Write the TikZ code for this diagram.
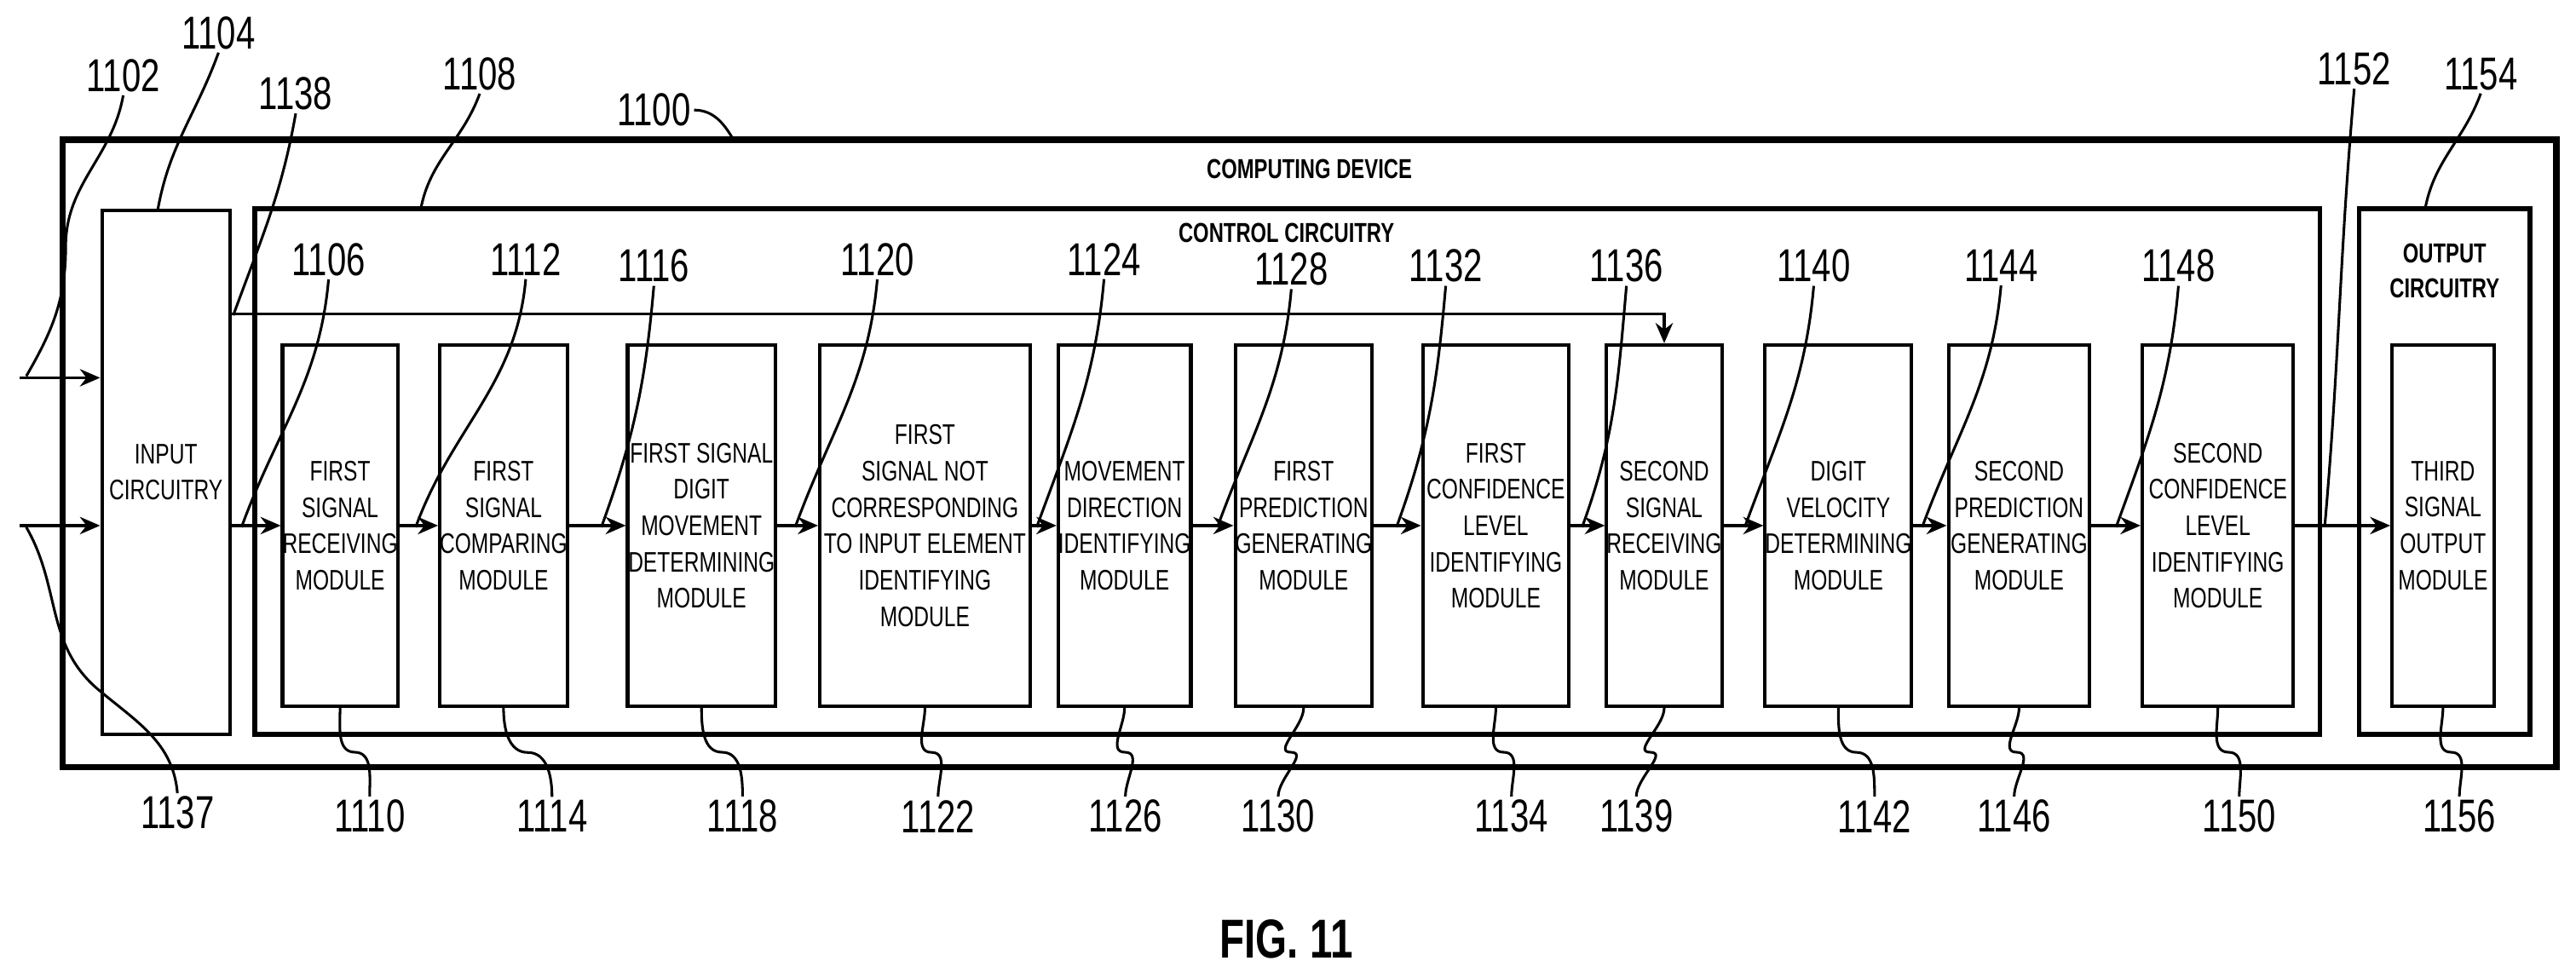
\documentclass[tikz,border=0pt]{standalone}
\usepackage{fontspec}
\setmainfont{Liberation Sans}[FakeStretch=0.74]
\usetikzlibrary{arrows.meta,calc}
\begin{document}
\begin{tikzpicture}[x=0.02cm,y=-0.02cm,
  box/.style={draw,line width=1.2pt,inner sep=0pt},
  mod/.style={draw,line width=1.2pt,minimum height=220*0.02cm,align=center,inner sep=0pt,font=\fontsize{9.8}{12.6}\selectfont},
  arr/.style={line width=1pt,-{Stealth[length=7pt,width=6pt]}},
  ref/.style={font=\fontsize{16}{16}\selectfont,inner sep=1pt},
  lead/.style={line width=0.9pt},
  hd/.style={font=\bfseries\fontsize{9.5}{12}\selectfont,align=center}]
\useasboundingbox (0,0) rectangle (1568,595);
\node[box,line width=2.2pt,minimum width=1518*0.02cm,minimum height=382*0.02cm] (dev) at (797,276) {};
\node[hd] (tdev) at (797,103) {COMPUTING DEVICE};
\node[box,minimum width=78*0.02cm,minimum height=319*0.02cm,align=center,font=\fontsize{9.8}{12.6}\selectfont] (in) at (101,287.5) {INPUT\\CIRCUITRY};
\node[box,line width=1.6pt,minimum width=1257*0.02cm,minimum height=320*0.02cm] (ctl) at (783.5,287) {};
\node[hd] (tctl) at (783,142) {CONTROL CIRCUITRY};
\node[box,line width=1.6pt,minimum width=104*0.02cm,minimum height=320*0.02cm] (out) at (1488,287) {};
\node[hd] (tout) at (1488,165) {OUTPUT\\CIRCUITRY};
\node[mod,minimum width=62*0.02cm] (m12) at (1487,320) {THIRD\\SIGNAL\\OUTPUT\\MODULE};
\node[mod,minimum width=66*0.02cm] (m1) at (207,320) {FIRST\\SIGNAL\\RECEIVING\\MODULE};
\node[mod,minimum width=73*0.02cm] (m2) at (306.5,320) {FIRST\\SIGNAL\\COMPARING\\MODULE};
\node[mod,minimum width=90*0.02cm] (m3) at (427,320) {FIRST SIGNAL\\DIGIT\\MOVEMENT\\DETERMINING\\MODULE};
\node[mod,minimum width=128*0.02cm] (m4) at (563,320) {FIRST\\SIGNAL NOT\\CORRESPONDING\\TO INPUT ELEMENT\\IDENTIFYING\\MODULE};
\node[mod,minimum width=75*0.02cm] (m5) at (684.5,320) {MOVEMENT\\DIRECTION\\IDENTIFYING\\MODULE};
\node[mod,minimum width=73*0.02cm] (m6) at (793.5,320) {FIRST\\PREDICTION\\GENERATING\\MODULE};
\node[mod,minimum width=89*0.02cm] (m7) at (910.5,320) {FIRST\\CONFIDENCE\\LEVEL\\IDENTIFYING\\MODULE};
\node[mod,minimum width=70*0.02cm] (m8) at (1013,320) {SECOND\\SIGNAL\\RECEIVING\\MODULE};
\node[mod,minimum width=82*0.02cm] (m9) at (1119,320) {DIGIT\\VELOCITY\\DETERMINING\\MODULE};
\node[mod,minimum width=86*0.02cm] (m10) at (1229,320) {SECOND\\PREDICTION\\GENERATING\\MODULE};
\node[mod,minimum width=92*0.02cm] (m11) at (1350,320) {SECOND\\CONFIDENCE\\LEVEL\\IDENTIFYING\\MODULE};
% arrows
\coordinate (i1) at (12,230); \coordinate (i2) at (12,320);
\draw[arr] (i1) -- (in.west |- i1);
\draw[arr] (i2) -- (in.west |- i2);
\draw[arr] (in.east |- m1.west) -- (m1.west);
\foreach \a/\b in {m1/m2,m2/m3,m3/m4,m4/m5,m5/m6,m6/m7,m7/m8,m8/m9,m9/m10,m10/m11,m11/m12}
  \draw[arr] (\a.east) -- (\b.west);
\coordinate (tp) at (140,191);
\draw[arr] (tp) -| (m8.north);
% top labels
\node[ref] (l1102) at (75,46) {1102};
\node[ref] (l1104) at (133,20) {1104};
\node[ref] (l1138) at (180,57) {1138};
\node[ref] (l1108) at (292,45) {1108};
\node[ref] (l1100) at (398,67) {1100};
\node[ref] (l1152) at (1433,42) {1152};
\node[ref] (l1154) at (1510,45) {1154};
\coordinate (c1102) at (16,229);
\coordinate (c1137) at (16,321);
\draw[lead] (l1102.south) to[out=-100,in=90] (40,150) to[out=-90,in=60] (c1102);
\draw[lead] (l1104.south) to[out=-110,in=80] (96,128);
\draw[lead] (l1138.south) to[out=-100,in=70] (142,192);
\draw[lead] (l1108.south) to[out=-110,in=80] (256,128);
\draw[lead] (l1100.east) to[out=0,in=120] (447,86);
\draw[lead] (l1152.south) to[out=-95,in=85] (1415,321);
\draw[lead] (l1154.south) to[out=-110,in=80] (1476,128);
% module number labels with leaders to arrows
\foreach \n/\x/\y/\t in {1106/200/158/147,1112/320/158/253,1116/398/162/366,1120/534/158/484,1124/672/158/631,1128/786/164/741,1132/880/162/850,1136/990/162/963,1140/1104/162/1062,1144/1218/162/1170,1148/1326/162/1288}{
  \node[ref] (l\n) at (\x,\y) {\n};
  \draw[lead] (l\n.south) to[out=-95,in=70] (\t,321);
}
% bottom labels
\node[ref] (l1137) at (108,495) {1137};
\draw[lead] (l1137.north) to[out=95,in=-40] (60,420) to[out=140,in=-60] (c1137);
\foreach \n/\x/\m in {1110/225/m1,1114/336/m2,1118/452/m3,1122/571/m4,1126/685/m5,1130/778/m6,1134/920/m7,1139/996/m8,1142/1141/m9,1146/1226/m10,1150/1363/m11,1156/1497/m12}{
  \node[ref] (l\n) at (\x,497) {\n};
  \draw[lead] (\m.south) to[out=-90,in=180] ($(\m.south)!0.5!(l\n.north)$) to[out=0,in=90] (l\n.north);
}
\node[font=\bfseries\fontsize{19}{19}\selectfont] (fig) at (783,572) {FIG. 11};
\end{tikzpicture}
\end{document}
